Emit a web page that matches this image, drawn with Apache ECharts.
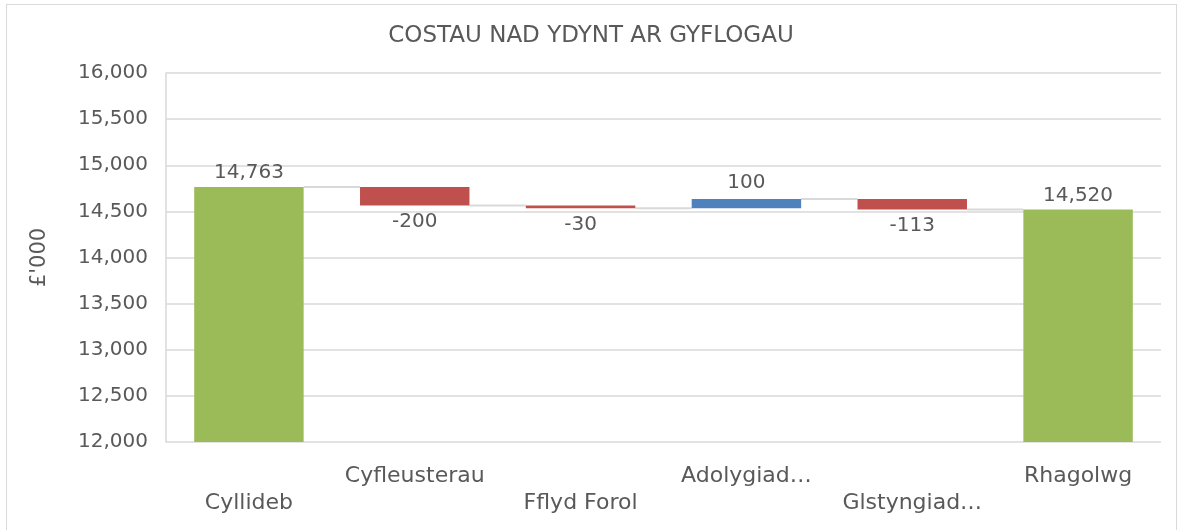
<!DOCTYPE html>
<html>
<head>
<meta charset="utf-8">
<script src="https://cdn.jsdelivr.net/npm/echarts@6/dist/echarts.min.js"></script>
<style>
html,body{margin:0;padding:0;background:#fff;}
#frame{position:absolute;left:6px;top:4px;width:1171px;height:540px;border:1px solid #d9d9d9;box-sizing:border-box;}
#chart{position:absolute;left:0;top:0;width:1182px;height:530px;}
</style>
</head>
<body>
<div id="frame"></div>
<div id="chart"></div>
<script>
// ---- data ----
const titleText = 'COSTAU NAD YDYNT AR GYFLOGAU';
const yAxisName = "£'000";
const categories = ['Cyllideb', 'Cyfleusterau', 'Fflyd Forol', 'Adolygiad…', 'Glstyngiad…', 'Rhagolwg'];
const startTotal = 14763;
const changes = [-200, -30, 100, -113];
const endTotal = 14520;
const yMin = 12000, yMax = 16000, yStep = 500;

// ---- derived ----
const FONT = '"DejaVu Sans", sans-serif';
const TXT = '#595959';
const GREEN = '#9BBB59', RED = '#C0504D', BLUE = '#4F81BD', GRID = '#d9d9d9';
const n = categories.length;
const totalData = categories.map((c, i) => i === 0 ? startTotal : (i === n - 1 ? endTotal : '-'));
const baseData = ['-'], deltaData = ['-'], levels = [startTotal];
let run = startTotal;
changes.forEach(ch => {
  const next = run + ch;
  baseData.push(Math.min(run, next));
  deltaData.push({
    value: Math.abs(ch),
    change: ch,
    itemStyle: { color: ch >= 0 ? BLUE : RED },
    label: { position: ch >= 0 ? 'top' : 'bottom' }
  });
  run = next;
  levels.push(run);
});
baseData.push('-'); deltaData.push('-');
const connectorData = levels.map((lv, i) => [i, lv]);

const fmt = v => Number(v).toLocaleString('en-US');
const chart = echarts.init(document.getElementById('chart'), null, { renderer: 'canvas' });
const BW = 0.66;
chart.setOption({
  animation: false,
  title: {
    text: titleText, left: 'center', top: 20,
    textStyle: { fontFamily: FONT, fontSize: 23, fontWeight: 'normal', color: TXT }
  },
  grid: { left: 166, right: 21, top: 73, bottom: 88, containLabel: false },
  xAxis: {
    type: 'category', data: categories,
    axisLine: { show: false }, axisTick: { show: false },
    axisLabel: {
      interval: 0, margin: 21, color: TXT, fontFamily: FONT, fontSize: 22, lineHeight: 27,
      verticalAlign: 'top',
      formatter: (v, i) => (i % 2 === 0 ? '\n' + v : v)
    }
  },
  yAxis: {
    type: 'value', min: yMin, max: yMax, interval: yStep,
    name: yAxisName, nameLocation: 'middle', nameRotate: 90, nameGap: 116,
    nameTextStyle: { fontFamily: FONT, fontSize: 21, color: TXT },
    axisLine: { show: true, lineStyle: { color: GRID, width: 1.5 } },
    axisTick: { show: false },
    axisLabel: { color: TXT, fontFamily: FONT, fontSize: 20, margin: 18, formatter: v => fmt(v) },
    splitLine: { lineStyle: { color: GRID, width: 1.5 } }
  },
  series: [
    {
      type: 'bar', name: 'base', stack: 'w', data: baseData, barWidth: BW * 100 + '%',
      itemStyle: { color: 'transparent' }, silent: true
    },
    {
      type: 'bar', name: 'delta', stack: 'w', data: deltaData, barWidth: BW * 100 + '%',
      label: {
        show: true, distance: 6, color: TXT, fontFamily: FONT, fontSize: 20,
        formatter: p => String(p.data.change)
      }
    },
    {
      type: 'bar', name: 'total', data: totalData, barWidth: BW * 100 + '%', barGap: '-100%',
      itemStyle: { color: GREEN },
      label: { show: true, position: 'top', distance: 4, color: TXT, fontFamily: FONT, fontSize: 20, formatter: p => fmt(p.value) }
    },
    {
      type: 'custom', name: 'connectors', data: connectorData, z: 1,
      renderItem: (params, api) => {
        const i = api.value(0), lv = api.value(1);
        const p1 = api.coord([i, lv]);
        const p2 = api.coord([i + 1, lv]);
        const half = api.size([1, 0])[0] * BW / 2;
        return {
          type: 'line',
          shape: { x1: p1[0] + half, y1: p1[1], x2: p2[0] - half, y2: p2[1] },
          style: { stroke: GRID, lineWidth: 2 }
        };
      }
    }
  ]
});
</script>
</body>
</html>
